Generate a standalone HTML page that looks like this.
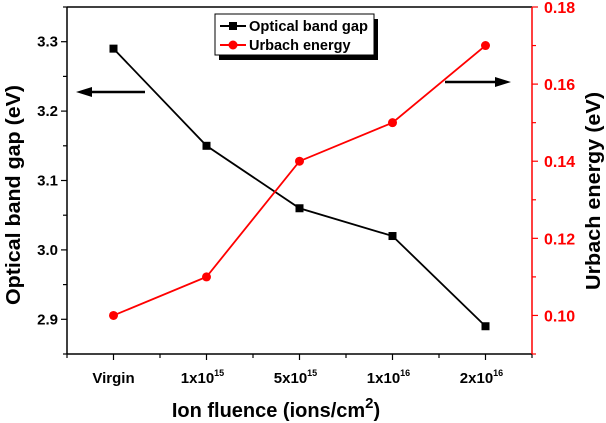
<!DOCTYPE html>
<html><head><meta charset="utf-8"><style>
html,body{margin:0;padding:0;background:#fff;width:606px;height:423px;overflow:hidden}
svg{font-family:"Liberation Sans",Arial,sans-serif;font-weight:bold}
</style></head><body>
<svg id="chart" width="606" height="423"></svg>
<script>
const categories=["Virgin","1x10","5x10","1x10","2x10"];
const catExp=["","15","15","16","16"];
const bandGap=[3.29,3.15,3.06,3.02,2.89];
const urbach=[0.10,0.11,0.14,0.15,0.17];
const leftTicks=[2.9,3.0,3.1,3.2,3.3];
const rightTicks=[0.10,0.12,0.14,0.16,0.18];
const L=67,R=532,T=7,B=354;
const xS=i=>L+(i+0.5)*(R-L)/categories.length;
const yL=v=>B-(v-2.85)/(3.35-2.85)*(B-T);
const yR=v=>B-(v-0.09)/(0.18-0.09)*(B-T);
const svg=document.getElementById('chart');
const NS='http://www.w3.org/2000/svg';
function el(t,a,p){const e=document.createElementNS(NS,t);for(const k in a)e.setAttribute(k,a[k]);(p||svg).appendChild(e);return e;}
let e;
e=el('line',{x1:L,y1:T,x2:R,y2:T,stroke:'#000','stroke-width':1.5});


e=el('line',{x1:L,y1:T,x2:L,y2:B,stroke:'#000','stroke-width':1.5});


e=el('line',{x1:L,y1:B,x2:R,y2:B,stroke:'#000','stroke-width':1.5});


e=el('line',{x1:R,y1:T,x2:R,y2:B,stroke:'#f00','stroke-width':1.5});


for(let i=0;i<=categories.length*2;i++){
  const x=L+i*(R-L)/(categories.length*2);
  const major=i%2===1;
  e=el('line',{x1:x,y1:B,x2:x,y2:B+(major?6:4),stroke:'#000','stroke-width':1.2});
  
  
}
categories.forEach((c,i)=>{
  const t=el('text',{x:xS(i)+(catExp[i]?-4:0),y:383,'font-size':15,'text-anchor':'middle'});
  
  
  t.textContent=c;
  if(catExp[i]){const s=el('tspan',{dy:-7,'font-size':9},t);s.textContent=catExp[i];}
});
for(let v=2.85;v<=3.351;v+=0.05){
  const major=Math.abs(Math.round(v*10)-v*10)<0.001;
  e=el('line',{x1:L-(major?6:4),y1:yL(v),x2:L,y2:yL(v),stroke:'#000','stroke-width':1.2});
  
  
}
leftTicks.forEach(v=>{
  const t=el('text',{x:58,y:yL(v)+5,'font-size':15,'text-anchor':'end'});
  
  
  t.textContent=v.toFixed(1);
});
for(let k=0;k<=9;k++){
  const v=0.09+k*0.01;
  e=el('line',{x1:R,y1:yR(v),x2:R+(k%2?6:4),y2:yR(v),stroke:'#f00','stroke-width':1.2});
  
  
}
rightTicks.forEach(v=>{
  const t=el('text',{x:544,y:yR(v)+6,'font-size':16,fill:'#f00'});
  
  
  t.textContent=v.toFixed(2);
});
e=el('text',{x:0,y:0,'font-size':20,'text-anchor':'middle',textLength:220,lengthAdjust:'spacingAndGlyphs',transform:'translate(20,195) rotate(-90)'});


e.textContent='Optical band gap (eV)';
e=el('text',{x:0,y:0,'font-size':20,'text-anchor':'middle',textLength:198,lengthAdjust:'spacingAndGlyphs',transform:'translate(600,191) rotate(-90)'});


e.textContent='Urbach energy (eV)';
e=el('text',{x:276,y:417,'font-size':20,'text-anchor':'middle'});


e.textContent='Ion fluence (ions/cm';
const sup=el('tspan',{dy:-9,'font-size':15},e);sup.textContent='2';
const cl=el('tspan',{dy:9},e);cl.textContent=')';
e=el('polyline',{points:bandGap.map((v,i)=>xS(i)+','+yL(v)).join(' '),fill:'none',stroke:'#000','stroke-width':1.8});


bandGap.forEach((v,i)=>{
  const m=el('rect',{x:xS(i)-4,y:yL(v)-4,width:8,height:8,fill:'#000'});
  
  
});
e=el('polyline',{points:urbach.map((v,i)=>xS(i)+','+yR(v)).join(' '),fill:'none',stroke:'#f00','stroke-width':1.8});


urbach.forEach((v,i)=>{
  const m=el('circle',{cx:xS(i),cy:yR(v),r:4.5,fill:'#f00'});
  
  
});
e=el('g',{});


el('line',{x1:145,y1:92,x2:90,y2:92,stroke:'#000','stroke-width':2.5},e);
el('polygon',{points:'76,92 92,87 92,97',fill:'#000'},e);
e=el('g',{});


el('line',{x1:445,y1:82,x2:497,y2:82,stroke:'#000','stroke-width':2.5},e);
el('polygon',{points:'511,82 495,77 495,87',fill:'#000'},e);
const lg=el('g',{});


el('rect',{x:219,y:19,width:159,height:41,fill:'#000'},lg);
el('rect',{x:215,y:14,width:159,height:41,fill:'#fff',stroke:'#000','stroke-width':1},lg);
const l1=el('g',{},lg);


el('line',{x1:220,y1:26,x2:246,y2:26,stroke:'#000','stroke-width':2},l1);
el('rect',{x:229,y:22,width:8,height:8,fill:'#000'},l1);
el('text',{x:249,y:31,'font-size':14.5,textLength:119,lengthAdjust:'spacingAndGlyphs'},l1).textContent='Optical band gap';
const l2=el('g',{},lg);


el('line',{x1:220,y1:45,x2:246,y2:45,stroke:'#f00','stroke-width':2},l2);
el('circle',{cx:233,cy:45,r:4.5,fill:'#f00'},l2);
el('text',{x:249,y:50,'font-size':14.5},l2).textContent='Urbach energy';
</script>
</body></html>
